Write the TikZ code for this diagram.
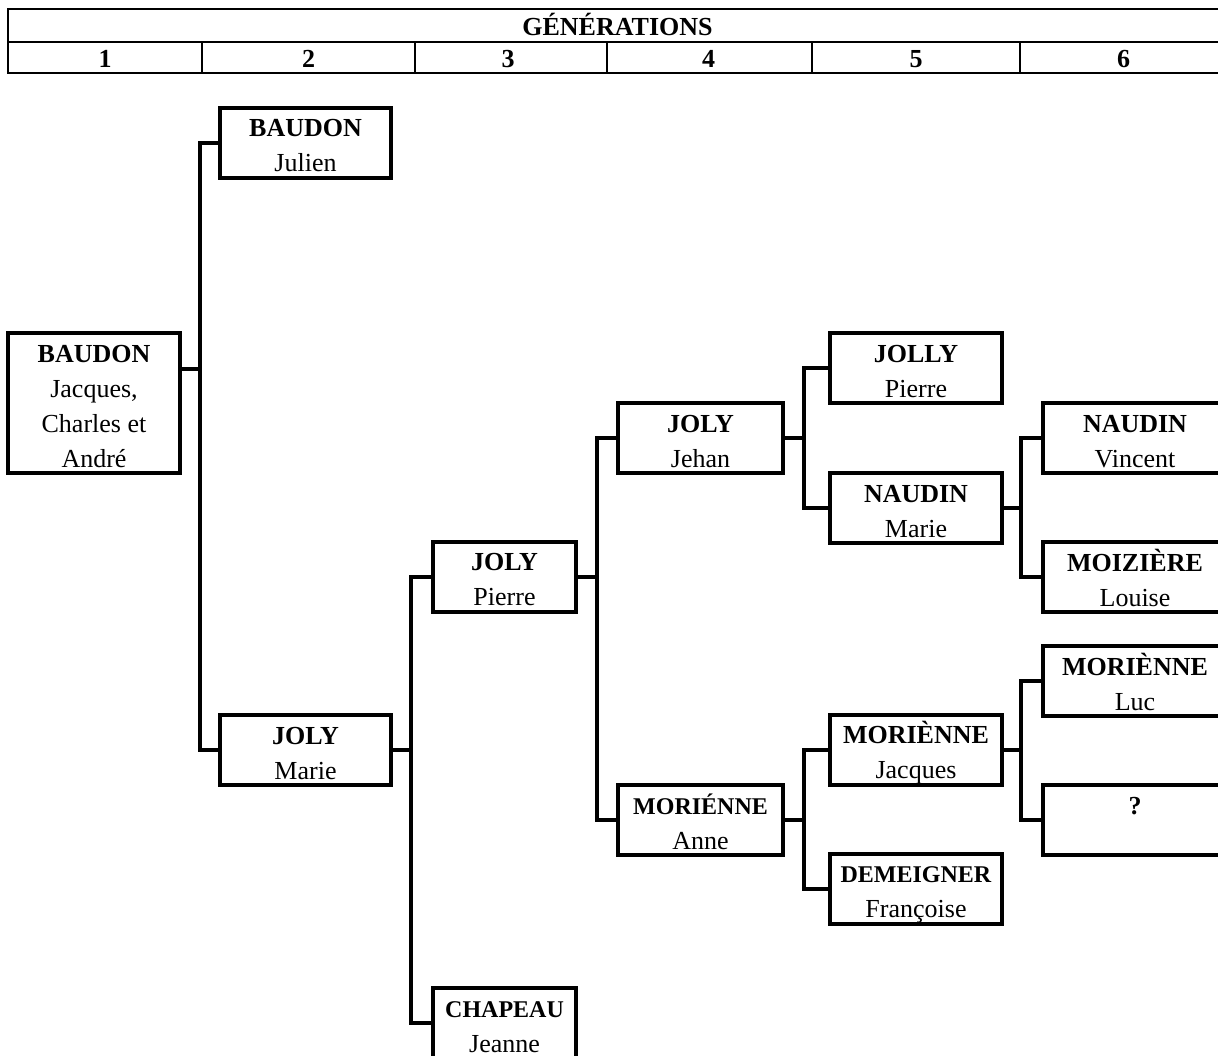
\documentclass[tikz,border=0pt]{standalone}
\usepackage{fontspec}
\setmainfont{Liberation Serif}
\usetikzlibrary{calc}
\newcommand\ms{\rule[-4pt]{0pt}{31pt}}
\newcommand\sm[1]{{\fontsize{24}{35}\selectfont\textbf{#1}}}
\begin{document}
\begin{tikzpicture}[x=1pt,y=-1pt,
  person/.style={draw, line width=4pt, inner sep=0pt, outer sep=0pt, align=center,
    font=\fontsize{26}{35}\selectfont, minimum height=70pt},
  gtwo/.style={person, minimum width=171pt},
  gthree/.style={person, minimum width=143pt},
  gfour/.style={person, minimum width=165pt},
  gfive/.style={person, minimum width=172pt},
  gsix/.style={person, minimum width=184pt},
  conn/.style={line width=4pt},
  hdr/.style={line width=2.5pt},
  htext/.style={font=\fontsize{26}{30}\selectfont\bfseries, inner sep=0pt, anchor=base}]
\useasboundingbox (0,0) rectangle (1218,1056);
\clip (0,0) rectangle (1218,1056);

% header table
\draw[hdr] (8,9) rectangle (1227,73);
\draw[hdr] (8,42) -- (1227,42);
\foreach \x in {202,415,607,812,1020} \draw[hdr] (\x,42) -- (\x,73);
\node[htext] (gen) at (617.5,36) {GÉNÉRATIONS};
\node[htext] (c1) at (105,68) {1};
\node[htext] (c2) at (308.5,68) {2};
\node[htext] (c3) at (508,68) {3};
\node[htext] (c4) at (708.5,68) {4};
\node[htext] (c5) at (916,68) {5};
\node[htext] (c6) at (1123.5,68) {6};

% persons
\node[person, minimum width=172pt, minimum height=140pt] (bj) at (94,403)
  {\textbf{BAUDON}\ms\\Jacques,\ms\\Charles et\ms\\André\ms};
\node[gtwo] (bju) at (305.5,143) {\textbf{BAUDON}\ms\\Julien\ms};
\node[gtwo] (jm) at (305.5,750) {\textbf{JOLY}\ms\\Marie\ms};
\node[gthree] (jp) at (504.5,576.5) {\textbf{JOLY}\ms\\Pierre\ms};
\node[gthree] (ch) at (504.5,1023) {\sm{CHAPEAU}\ms\\Jeanne\ms};
\node[gfour] (jj) at (700.5,438) {\textbf{JOLY}\ms\\Jehan\ms};
\node[gfour] (ma) at (700.5,820) {\sm{MORIÉNNE}\ms\\Anne\ms};
\node[gfive] (jo) at (916,368) {\textbf{JOLLY}\ms\\Pierre\ms};
\node[gfive] (nm) at (916,508) {\textbf{NAUDIN}\ms\\Marie\ms};
\node[gfive] (mj) at (916,750) {\textbf{MORIÈNNE}\ms\\Jacques\ms};
\node[gfive] (de) at (916,889) {\sm{DEMEIGNER}\ms\\Françoise\ms};
\node[gsix] (nv) at (1135,438) {\textbf{NAUDIN}\ms\\Vincent\ms};
\node[gsix] (mo) at (1135,577) {\textbf{MOIZIÈRE}\ms\\Louise\ms};
\node[gsix] (ml) at (1135,681) {\textbf{MORIÈNNE}\ms\\Luc\ms};
\node[gsix] (qq) at (1135,820) {\textbf{?}\ms\\\ms};

% connectors
\coordinate (bjo) at ($(bj.north east)+(0,36)$);
\draw[conn] (bjo) -- ++(20,0) coordinate (b1);
\draw[conn] (bju.west) -| (b1) |- (jm.west);
\draw[conn] (jm.east) -- ++(20,0) coordinate (b2);
\draw[conn] (jp.west) -| (b2) |- (ch.west);
\draw[conn] (jp.east) -- ++(21,0) coordinate (b3);
\draw[conn] (jj.west) -| (b3) |- (ma.west);
\draw[conn] (jj.east) -- ++(21,0) coordinate (b4);
\draw[conn] (jo.west) -| (b4) |- (nm.west);
\draw[conn] (ma.east) -- ++(21,0) coordinate (b5);
\draw[conn] (mj.west) -| (b5) |- (de.west);
\draw[conn] (nm.east) -- ++(19,0) coordinate (b6);
\draw[conn] (nv.west) -| (b6) |- (mo.west);
\draw[conn] (mj.east) -- ++(19,0) coordinate (b7);
\draw[conn] (ml.west) -| (b7) |- (qq.west);
\end{tikzpicture}
\end{document}
